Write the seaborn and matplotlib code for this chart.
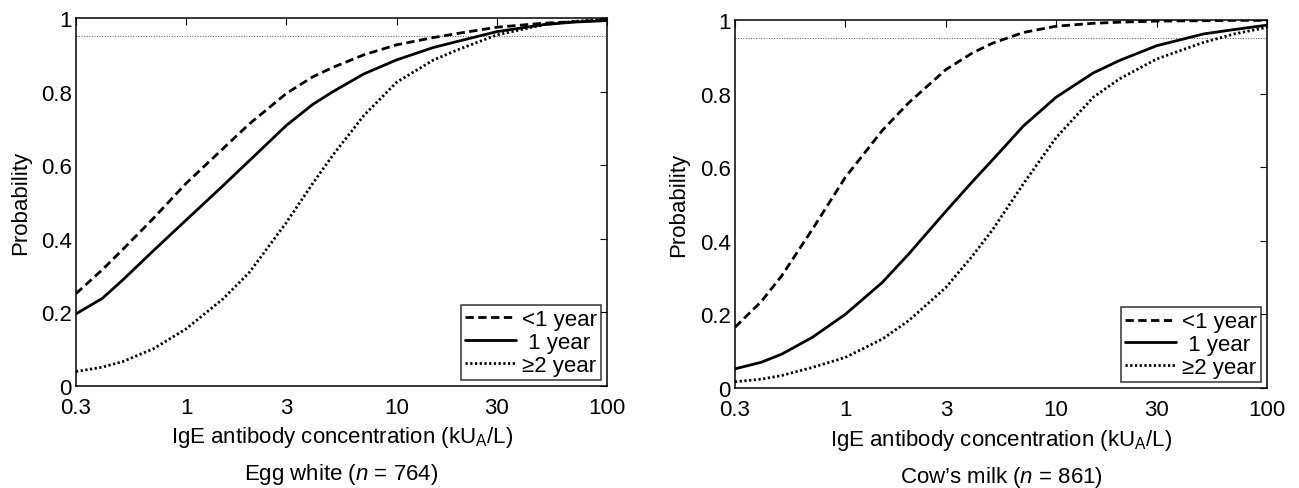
import numpy as np
import pandas as pd
import matplotlib
matplotlib.use("Agg")
import matplotlib.pyplot as plt
import seaborn as sns
from matplotlib.ticker import FixedLocator, NullLocator, FixedFormatter

# ---------------- data ----------------
conc = [0.3, 0.4, 0.5, 0.7, 1, 1.5, 2, 3, 4, 5, 7, 10, 15, 20, 30, 50, 70, 100]
ages = ["<1 year", " 1 year", "\u22652 year"]

egg_lt1 = [0.25, 0.315, 0.37, 0.455, 0.55, 0.645, 0.712, 0.795, 0.84, 0.866,
           0.9, 0.927, 0.947, 0.959, 0.975, 0.986, 0.99, 0.995]
egg_1 = [0.195, 0.237, 0.287, 0.367, 0.45, 0.544, 0.612, 0.708, 0.765, 0.8,
         0.848, 0.886, 0.92, 0.938, 0.963, 0.982, 0.989, 0.993]
egg_ge2 = [0.038, 0.05, 0.065, 0.1, 0.154, 0.236, 0.308, 0.444, 0.55, 0.628,
           0.735, 0.825, 0.886, 0.916, 0.954, 0.982, 0.991, 0.997]

milk_lt1 = [0.165, 0.235, 0.305, 0.432, 0.572, 0.70, 0.775, 0.865, 0.91, 0.937,
            0.966, 0.983, 0.991, 0.994, 0.997, 0.998, 0.999, 0.999]
milk_1 = [0.052, 0.07, 0.092, 0.138, 0.2, 0.287, 0.364, 0.48, 0.56, 0.62,
          0.712, 0.79, 0.856, 0.89, 0.93, 0.962, 0.974, 0.986]
milk_ge2 = [0.017, 0.024, 0.034, 0.056, 0.083, 0.133, 0.183, 0.273, 0.358, 0.43,
            0.555, 0.68, 0.79, 0.84, 0.894, 0.939, 0.962, 0.98]

xticks = [0.3, 1, 3, 10, 30, 100]
xticklabels = ["0.3", "1", "3", "10", "30", "100"]
yticks = [0, 0.2, 0.4, 0.6, 0.8, 1]
yticklabels = ["0", "0.2", "0.4", "0.6", "0.8", "1"]
ppv_level = 0.95

xlabel = "IgE antibody concentration (kU$_\\mathrm{A}$/L)"
ylabel = "Probability"
subtitles = ["Egg white ($\\mathit{n}$ = 764)", "Cow\u2019s milk ($\\mathit{n}$ = 861)"]

panels = [(egg_lt1, egg_1, egg_ge2), (milk_lt1, milk_1, milk_ge2)]

# ---------------- style ----------------
sns.set_style("white")
plt.rcParams["font.family"] = ["Liberation Sans", "DejaVu Sans"]
plt.rcParams["mathtext.fontset"] = "custom"
plt.rcParams["mathtext.rm"] = "Liberation Sans"
plt.rcParams["mathtext.it"] = "Liberation Sans:italic"
plt.rcParams["mathtext.bf"] = "Liberation Sans:bold"
FS = 16

LW = 2.0
dash_map = {ages[0]: (3.0, 1.6), ages[1]: "", ages[2]: (0.8, 0.9)}

fig = plt.figure(figsize=(12.99, 4.89), dpi=100)
axes_pos = [[0.0585, 0.2096, 0.4088, 0.7515],
            [0.5658, 0.2045, 0.4095, 0.7526]]

for pos, series, sub in zip(axes_pos, panels, subtitles):
    ax = fig.add_axes(pos)
    frames = []
    for age, vals in zip(ages, series):
        frames.append(pd.DataFrame({"conc": conc, "prob": vals, "age": age}))
    df = pd.concat(frames, ignore_index=True)

    sns.lineplot(data=df, x="conc", y="prob", style="age", style_order=ages,
                 dashes=dash_map, color="black", linewidth=LW,
                 estimator=None, legend=False, ax=ax)
    handles = list(ax.get_lines()[:3])

    ax.axhline(ppv_level, color="0.35", linestyle=":", linewidth=0.7, zorder=1)

    ax.set_xscale("log")
    ax.set_xlim(0.3, 100)
    ax.set_ylim(0, 1)
    ax.xaxis.set_major_locator(FixedLocator(xticks))
    ax.xaxis.set_major_formatter(FixedFormatter(xticklabels))
    ax.xaxis.set_minor_locator(NullLocator())
    ax.yaxis.set_major_locator(FixedLocator(yticks))
    ax.yaxis.set_major_formatter(FixedFormatter(yticklabels))
    ax.tick_params(axis="both", which="major", direction="in", length=5,
                   width=0.8, labelsize=FS, top=True, right=True,
                   color="black", labelcolor="black")
    ax.tick_params(axis="x", pad=8)
    ax.tick_params(axis="y", pad=3)
    for sp in ax.spines.values():
        sp.set_visible(True)
        sp.set_color("black")
        sp.set_linewidth(1.1)

    ax.set_xlabel(xlabel, fontsize=FS, color="black")
    ax.xaxis.set_label_coords(0.5, -0.14)
    ax.xaxis.label.set_va("center")
    ax.set_ylabel(ylabel, fontsize=FS, color="black")
    ax.yaxis.set_label_coords(-0.105, 0.5)
    ax.yaxis.label.set_va("center")

    ax.text(0.5, -0.24, sub, transform=ax.transAxes, ha="center", va="center",
            fontsize=FS, color="black")

    leg = ax.legend(handles, ages, loc="lower right", fontsize=FS,
                    frameon=True, fancybox=False, borderpad=0.2,
                    labelspacing=0.08, handlelength=2.3, handletextpad=0.25,
                    borderaxespad=0.25)
    leg.get_frame().set_edgecolor("black")
    leg.get_frame().set_linewidth(1.1)
    for t in leg.get_texts():
        t.set_color("black")

fig.savefig("out.png", dpi=100)
